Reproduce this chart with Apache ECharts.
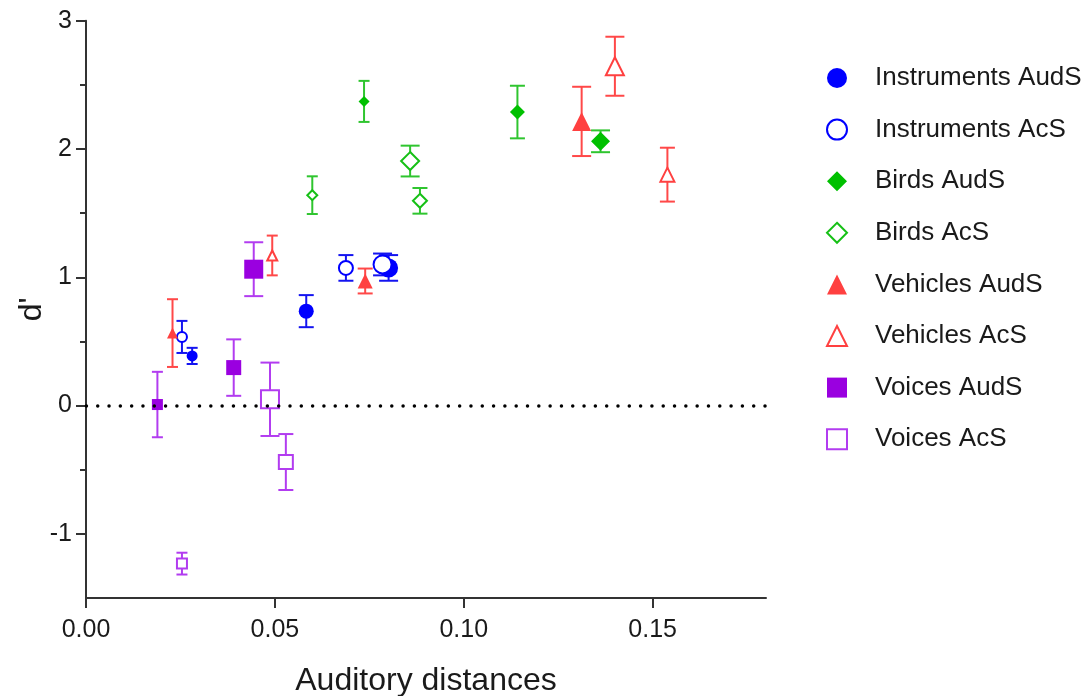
<!DOCTYPE html>
<html><head><meta charset="utf-8">
<script src="https://cdn.jsdelivr.net/npm/echarts@6/dist/echarts.min.js"></script>
<style>html,body{margin:0;padding:0;background:#fff}#c{width:1089px;height:696px}</style>
</head><body><div id="c"></div>
<script>
// ---- data ----
const seriesNames = ['Instruments AudS','Instruments AcS','Birds AudS','Birds AcS','Vehicles AudS','Vehicles AcS','Voices AudS','Voices AcS'];

const instAudX = [0.0281, 0.0583, 0.0801];
const instAudY = [0.387, 0.736, 1.073];
const instAudErr = [0.063, 0.125, 0.100];
const instAudLevel = [1, 2, 3];

const instAcX = [0.0254, 0.0688, 0.0785];
const instAcY = [0.535, 1.073, 1.100];
const instAcErr = [0.125, 0.100, 0.085];
const instAcLevel = [1, 2, 3];

const birdAudX = [0.0736, 0.1142, 0.1362];
const birdAudY = [2.371, 2.288, 2.060];
const birdAudErr = [0.160, 0.205, 0.085];
const birdAudLevel = [1, 2, 3];

const birdAcX = [0.0599, 0.0884, 0.0858];
const birdAcY = [1.640, 1.596, 1.906];
const birdAcErr = [0.147, 0.100, 0.120];
const birdAcLevel = [1, 2, 3];

const vehAudX = [0.0229, 0.0739, 0.1312];
const vehAudY = [0.565, 0.971, 2.215];
const vehAudErr = [0.264, 0.097, 0.270];
const vehAudLevel = [1, 2, 3];

const vehAcX = [0.0493, 0.1539, 0.1400];
const vehAcY = [1.170, 1.800, 2.645];
const vehAcErr = [0.155, 0.210, 0.230];
const vehAcLevel = [1, 2, 3];

const voiAudX = [0.0189, 0.0391, 0.0444];
const voiAudY = [0.008, 0.296, 1.063];
const voiAudErr = [0.255, 0.220, 0.210];
const voiAudLevel = [1, 2, 3];

const voiAcX = [0.0254, 0.0529, 0.0487];
const voiAcY = [-1.232, -0.440, 0.049];
const voiAcErr = [0.085, 0.218, 0.286];
const voiAcLevel = [1, 2, 3];

const xTickValues = [0, 0.05, 0.10, 0.15];
const yTickValues = [-1, 0, 1, 2, 3];
const yMinorTickValues = [-0.5, 0.5, 1.5, 2.5];
const referenceY = 0;

// ---- styles ----
const FONT = 'Liberation Sans, Arial, sans-serif';
const TEXT = '#1a1a1a';
const AXIS = '#333333';
const sizeOfLevel = {1: 11, 2: 15, 3: 19};

const groups = [
  {x: instAudX, y: instAudY, e: instAudErr, l: instAudLevel, symbol: 'circle',   color: '#0000ff', err: '#1414f0', filled: true},
  {x: instAcX,  y: instAcY,  e: instAcErr,  l: instAcLevel,  symbol: 'circle',   color: '#0000ff', err: '#1414f0', filled: false},
  {x: birdAudX, y: birdAudY, e: birdAudErr, l: birdAudLevel, symbol: 'diamond',  color: '#00c000', err: '#2fc52f', filled: true},
  {x: birdAcX,  y: birdAcY,  e: birdAcErr,  l: birdAcLevel,  symbol: 'diamond',  color: '#16c016', err: '#2fc52f', filled: false},
  {x: vehAudX,  y: vehAudY,  e: vehAudErr,  l: vehAudLevel,  symbol: 'triangle', color: '#ff4040', err: '#ff4848', filled: true},
  {x: vehAcX,   y: vehAcY,   e: vehAcErr,   l: vehAcLevel,   symbol: 'triangle', color: '#ff4040', err: '#ff4848', filled: false},
  {x: voiAudX,  y: voiAudY,  e: voiAudErr,  l: voiAudLevel,  symbol: 'rect',     color: '#9a00e0', err: '#b23cf0', filled: true},
  {x: voiAcX,   y: voiAcY,   e: voiAcErr,   l: voiAcLevel,   symbol: 'rect',     color: '#b23cf0', err: '#b23cf0', filled: false}
];

const series = [];
groups.forEach((g, gi) => {
  const errData = g.x.map((xv, i) => [xv, g.y[i] - g.e[i], g.y[i] + g.e[i]]);
  series.push({
    name: seriesNames[gi] + ' error',
    type: 'custom',
    z: 2,
    silent: true,
    data: errData,
    renderItem: (params, api) => {
      const xv = api.value(0);
      const lo = api.coord([xv, api.value(1)]);
      const hi = api.coord([xv, api.value(2)]);
      const h = sizeOfLevel[g.l[params.dataIndex]] / 2;
      const style = {stroke: g.err, lineWidth: 2, fill: null};
      return {type: 'group', children: [
        {type: 'line', shape: {x1: lo[0], y1: lo[1], x2: hi[0], y2: hi[1]}, style},
        {type: 'line', shape: {x1: lo[0] - h, y1: lo[1], x2: lo[0] + h, y2: lo[1]}, style},
        {type: 'line', shape: {x1: hi[0] - h, y1: hi[1], x2: hi[0] + h, y2: hi[1]}, style}
      ]};
    }
  });
  series.push({
    name: seriesNames[gi],
    type: 'scatter',
    z: 3,
    symbol: g.symbol,
    symbolSize: (val, params) => sizeOfLevel[g.l[params.dataIndex]] - (g.filled ? 0 : 1),
    itemStyle: g.filled ? {color: g.color, opacity: 1} : {color: '#ffffff', borderColor: g.color, borderWidth: 2, opacity: 1},
    data: g.x.map((xv, i) => [xv, g.y[i]])
  });
});

series.push({
  name: 'reference',
  type: 'line',
  data: [],
  silent: true,
  markLine: {
    silent: true,
    symbol: ['none', 'none'],
    label: {show: false},
    lineStyle: {color: '#000', width: 3.5, type: [0.01, 11.3], cap: 'round', dashOffset: 10.9},
    data: [{yAxis: referenceY}]
  }
});

const chart = echarts.init(document.getElementById('c'), null, {renderer: 'canvas'});
chart.setOption({
  animation: false,
  backgroundColor: '#ffffff',
  grid: {left: 86, right: 323, top: 20.7, bottom: 98, containLabel: false, outerBoundsMode: 'none'},
  legend: {
    orient: 'vertical', left: 821, top: 60,
    itemWidth: 20, itemHeight: 20, itemGap: 25.6,
    selectedMode: false,
    data: seriesNames,
    textStyle: {fontSize: 26, fontFamily: FONT, color: TEXT, padding: [0, 0, 0, 23]}
  },
  xAxis: {
    type: 'value', min: 0, max: 0.18, interval: 0.05,
    name: 'Auditory distances', nameLocation: 'middle', nameGap: 67,
    nameTextStyle: {fontSize: 32, fontFamily: FONT, color: TEXT},
    axisLine: {show: true, onZero: false, lineStyle: {color: AXIS, width: 2}},
    axisTick: {show: true, length: 10, lineStyle: {color: AXIS, width: 2}, customValues: xTickValues},
    axisLabel: {fontSize: 25, fontFamily: FONT, color: TEXT, margin: 20, customValues: xTickValues,
      formatter: v => v.toFixed(2)},
    splitLine: {show: false}
  },
  yAxis: [{
    type: 'value', min: -1.5, max: 3, position: 'left',
    name: "d'", nameLocation: 'middle', nameGap: 38, nameMoveOverlap: false,
    nameTextStyle: {fontSize: 32, fontFamily: FONT, color: TEXT},
    axisLine: {show: true, onZero: false, lineStyle: {color: AXIS, width: 2}},
    axisTick: {show: true, length: 10, lineStyle: {color: AXIS, width: 2}, customValues: yTickValues},
    axisLabel: {fontSize: 25, fontFamily: FONT, color: TEXT, margin: 14, customValues: yTickValues,
      formatter: v => String(v)},
    splitLine: {show: false}
  }, {
    type: 'value', min: -1.5, max: 3, position: 'left', offset: 0,
    axisLine: {show: false},
    axisTick: {show: true, length: 6, lineStyle: {color: AXIS, width: 2}, customValues: yMinorTickValues},
    axisLabel: {show: false},
    splitLine: {show: false}
  }],
  series: series
});
</script>
</body></html>
